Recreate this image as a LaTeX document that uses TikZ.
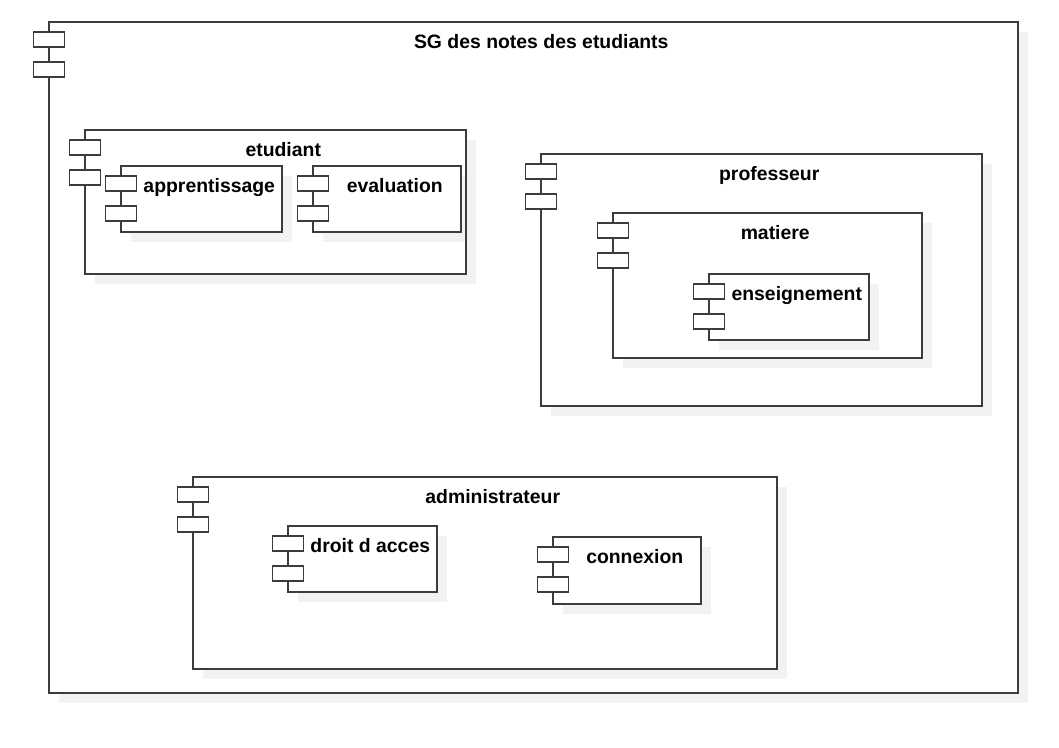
\documentclass[tikz,border=0pt]{standalone}
\usepackage{fontspec}
\setmainfont{Liberation Sans}
\definecolor{linec}{HTML}{3C3C3C}
\definecolor{shadowc}{HTML}{F2F2F2}
\pgfdeclarelayer{bg}
\pgfsetlayers{bg,main}
\tikzset{
  boxline/.style={draw=linec, line width=1.6pt},
  portline/.style={draw=linec, line width=1.4pt, fill=white},
  shadowfill/.style={fill=shadowc},
  lbl/.style={anchor=base, inner sep=0pt, font=\fontsize{19.4}{23}\selectfont\bfseries, text=black}
}
% name, x1, y1, x2, y2, label
\newcommand\umlcomp[6]{%
  \begin{pgfonlayer}{bg}
    \fill[shadowfill] (#2+10,#3+10) rectangle (#4+10,#5+10);
    \fill[white] (#2,#3) rectangle (#4,#5);
  \end{pgfonlayer}
  \draw[boxline] (#2,#3) rectangle (#4,#5);
  \draw[portline] (#2-15.5,#3+10) rectangle (#2+15.5,#3+25);
  \draw[portline] (#2-15.5,#3+40) rectangle (#2+15.5,#3+55);
  \node[lbl] (#1) at ({(#2+15.5+#4)/2},#3+26) {#6};
}
\begin{document}
\begin{tikzpicture}[x=1pt,y=-1pt]
\useasboundingbox (0,0) rectangle (1059,747);
\umlcomp{sg}{49}{22}{1018}{693}{SG des notes des etudiants}
\umlcomp{etudiant}{85}{130}{466}{274}{etudiant}
\umlcomp{apprentissage}{121}{166}{282}{232}{apprentissage}
\umlcomp{evaluation}{313}{166}{461}{232}{evaluation}
\umlcomp{professeur}{541}{154}{982}{406}{professeur}
\umlcomp{matiere}{613}{213}{922}{358}{matiere}
\umlcomp{enseignement}{709}{274}{869}{340}{enseignement}
\umlcomp{administrateur}{193}{477}{777}{669}{administrateur}
\umlcomp{droit}{288}{526}{437}{592}{droit d acces}
\umlcomp{connexion}{553}{537}{701}{604}{connexion}
\end{tikzpicture}
\end{document}
